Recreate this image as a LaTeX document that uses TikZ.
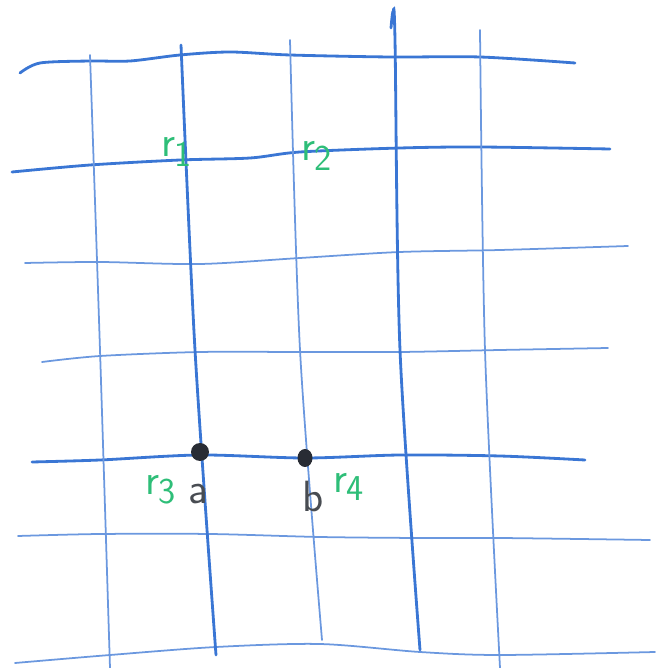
\documentclass[tikz,border=0pt]{standalone}
\usepackage{xcolor}
\usepackage{tikz}
\usetikzlibrary{positioning, shapes.geometric}

\begin{document}
\begin{tikzpicture}[
  grid line/.style={gridblue, line width=1.6pt, line cap=round},
  thin line/.style={gridblue!75, line width=1.0pt, line cap=round},
  point/.style={circle, fill=inkdark, inner sep=0pt, minimum size=0.36cm},
  rlabel/.style={font=\Huge\sffamily, text=labgreen, inner sep=0pt},
  plabel/.style={font=\Huge\sffamily, text=inkdark!85, inner sep=0pt}
]
\definecolor{gridblue}{RGB}{58,118,212}
\definecolor{labgreen}{RGB}{46,190,120}
\definecolor{inkdark}{RGB}{40,44,52}

\useasboundingbox (0,0) rectangle (13.3,13.36);

% ---- horizontal lines ----
\draw[grid line] plot[smooth] coordinates {(0.4,11.9) (0.8,12.1) (1.8,12.14) (2.6,12.14) (3.6,12.26) (4.6,12.32) (5.8,12.26) (7.8,12.22) (9.6,12.22) (11.5,12.1)};
\draw[grid line] plot[smooth] coordinates {(0.24,9.92) (1.8,10.06) (3.6,10.16) (5.0,10.2) (6.0,10.32) (8.0,10.4) (9.6,10.42) (12.2,10.38)};
\draw[thin line] plot[smooth] coordinates {(0.5,8.1) (2.0,8.12) (4.0,8.08) (6.0,8.2) (8.0,8.32) (10.0,8.36) (12.56,8.44)};
\draw[thin line] plot[smooth] coordinates {(0.84,6.12) (2.0,6.24) (4.0,6.32) (6.0,6.32) (8.0,6.32) (10.0,6.36) (12.16,6.4)};
\draw[grid line] plot[smooth] coordinates {(0.64,4.12) (2.0,4.16) (4.0,4.26) (6.1,4.2) (8.0,4.26) (10.0,4.24) (11.7,4.16)};
\draw[thin line] plot[smooth] coordinates {(0.36,2.64) (2.0,2.68) (4.2,2.68) (6.4,2.62) (8.4,2.6) (10.0,2.6) (13.0,2.56)};
\draw[thin line] plot[smooth] coordinates {(0.3,0.1) (2.2,0.26) (4.32,0.42) (6.4,0.48) (8.4,0.32) (10.0,0.26) (13.1,0.32)};

% ---- vertical lines ----
\draw[thin line] plot[smooth] coordinates {(1.8,12.26) (2.0,6.36) (2.2,0.0)};
\draw[grid line] plot[smooth] coordinates {(3.62,12.46) (3.9,6.36) (4.32,0.26)};
\draw[thin line] plot[smooth] coordinates {(5.8,12.56) (6.0,6.36) (6.44,0.56)};
\draw[grid line] plot[smooth] coordinates {(7.82,12.8) (7.86,13.12) (7.9,12.56) (8.0,6.36) (8.4,0.36)};
\draw[thin line] plot[smooth] coordinates {(9.6,12.76) (9.7,6.36) (10.0,0.0)};

% ---- points a and b ----
\node[point] (a) at (4.0,4.32) {};
\node[point, ellipse, minimum width=0.3cm, minimum height=0.36cm] (b) at (6.1,4.2) {};
\node[plabel] (alab) at (3.96,3.48) {a};
\node[plabel] (blab) at (6.26,3.42) {b};

% ---- r labels ----
\node[rlabel] (r1) at (3.54,10.32) {r\textsubscript{1}};
\node[rlabel] (r2) at (6.34,10.24) {r\textsubscript{2}};
\node[rlabel] (r3) at (3.22,3.56) {r\textsubscript{3}};
\node[rlabel] (r4) at (6.98,3.62) {r\textsubscript{4}};

\end{tikzpicture}
\end{document}
